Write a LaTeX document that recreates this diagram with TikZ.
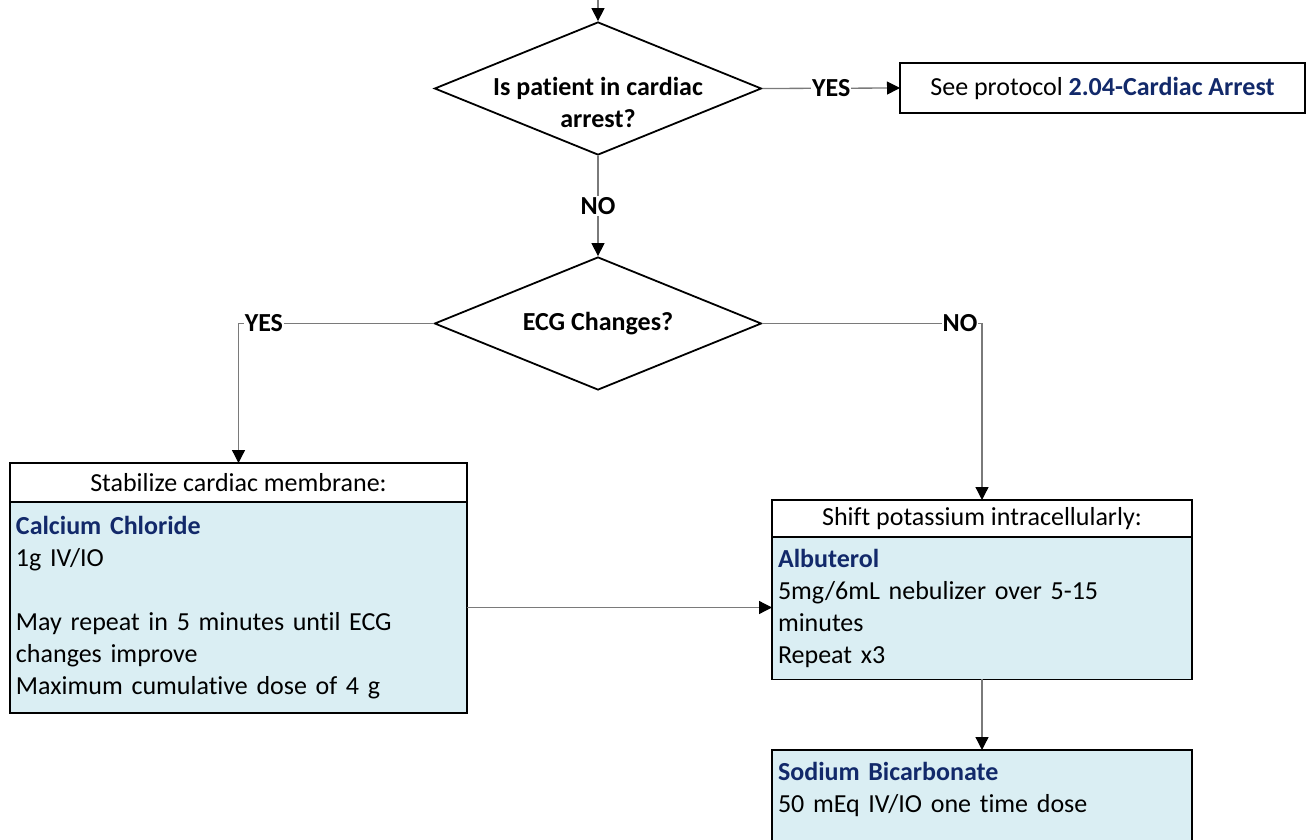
\documentclass[tikz,border=0pt]{standalone}
\usepackage{fontspec}
\setmainfont{Carlito}[Ligatures=NoCommon]
\usepackage{tikz}
\usetikzlibrary{shapes.geometric,arrows.meta,positioning}
\definecolor{drugblue}{HTML}{12296A}
\definecolor{bodyfill}{HTML}{DAEEF3}
\definecolor{linegray}{HTML}{7A7A7A}
\newcommand{\chartfont}{\fontsize{26}{32}\selectfont}

\begin{document}
\begin{tikzpicture}[x=1pt,y=-1pt,
        every node/.style={font=\chartfont},
        decision/.style={diamond, draw=black, line width=1.8pt, fill=white, aspect=2.46,
            minimum width=327pt, minimum height=133pt, inner sep=0pt,
            font=\chartfont\bfseries},
        headbox/.style={draw=black, line width=1.8pt, fill=white,
            inner sep=0pt, outer sep=0pt, align=center},
        bodybox/.style={draw=black, line width=1.8pt, fill=bodyfill,
            align=left, inner xsep=6pt, inner ysep=12pt, outer sep=0pt},
        answer/.style={fill=white, inner sep=1pt, font=\chartfont\bfseries},
        conn/.style={draw=linegray, line width=1.3pt,
            -{Triangle[length=13pt,width=13pt,color=black]}}]
        \useasboundingbox (0,0) rectangle (1310,840);
        \clip (0,0) rectangle (1310,840);

        \coordinate (entry) at (598,0);
        \node[decision] (arrest) at (598,88.5) {};
        \node[font=\chartfont\bfseries, align=center] (arresttxt) at (598,102)
        {Is patient in cardiac\\arrest?};
        \node[headbox, minimum width=405pt, minimum height=50pt] (seeproto) at (1102.5,88)
        {See protocol \textcolor{drugblue}{\bfseries 2.04-Cardiac Arrest}};
        \node[decision] (ecg) at (598,323.5) {ECG Changes?};

        \node[headbox, minimum width=457pt, minimum height=39pt] (stabhead) at (238.5,482.5)
        {Stabilize cardiac membrane:};
        \node[bodybox, below=0pt of stabhead, text width=445pt, minimum height=211pt] (stabbody)
        {\textcolor{drugblue}{\bfseries Calcium Chloride}\\1g IV/IO\\[32pt]May repeat in 5 minutes until ECG\\changes improve\\Maximum cumulative dose of 4 g};

        \node[headbox, minimum width=420pt, minimum height=37pt] (shifthead) at (982,518.5)
        {Shift potassium intracellularly:};
        \node[bodybox, below=0pt of shifthead, text width=408pt, minimum height=139pt] (shiftbody)
        {\textcolor{drugblue}{\bfseries Albuterol}\\5mg/6mL nebulizer over 5-15\\minutes\\Repeat x3};

        \node[bodybox, anchor=north, text width=408pt] (sodium) at (982,750)
        {\textcolor{drugblue}{\bfseries Sodium Bicarbonate}\\50 mEq IV/IO one time dose\\ \mbox{}};

        \draw[conn] (entry) -- (arrest.north);
        \draw[conn] (arrest.east) -- node[answer] {YES} (seeproto.west);
        \draw[conn] (arrest.south) -- node[answer] {NO} (ecg.north);
        \draw[conn] (ecg.west) -| node[answer, pos=0.435] {YES} (stabhead.north);
        \draw[conn] (ecg.east) -| node[answer, pos=0.45] {NO} (shifthead.north);
        \draw[conn] (stabbody.east) -- (stabbody.east -| shiftbody.west);
        \draw[conn] (shiftbody.south) -- (sodium.north);
    \end{tikzpicture}
\end{document}
